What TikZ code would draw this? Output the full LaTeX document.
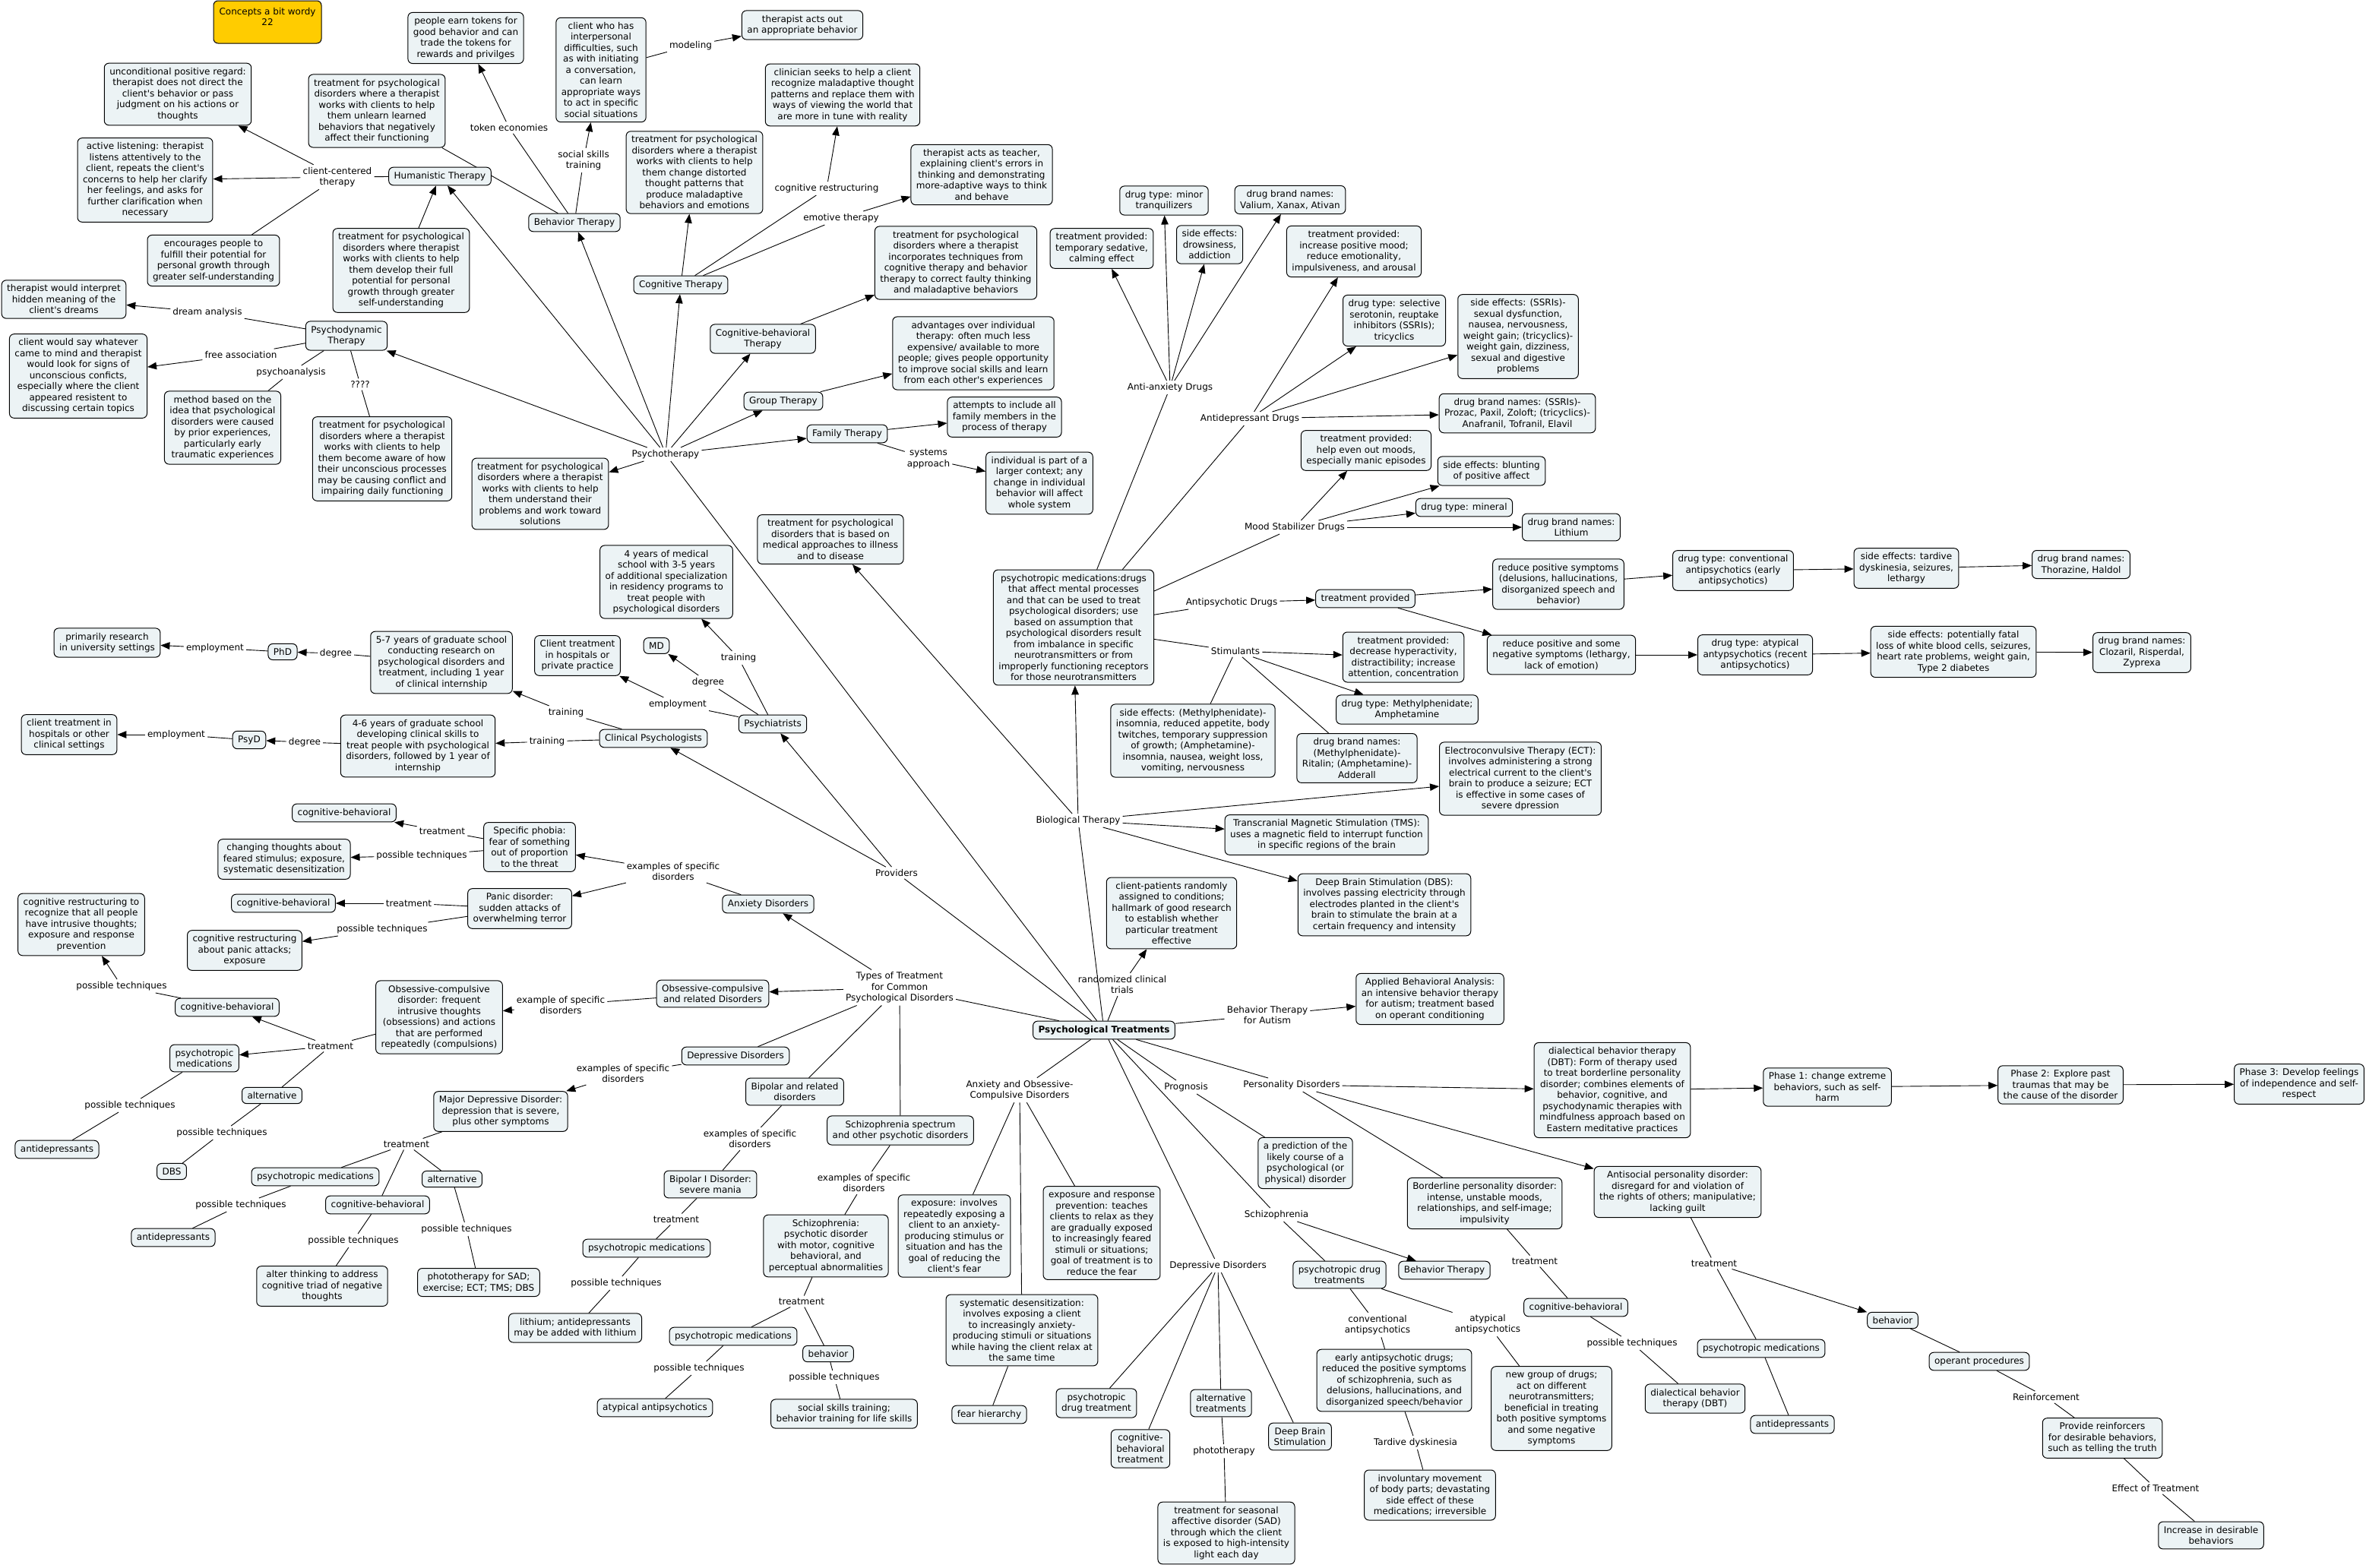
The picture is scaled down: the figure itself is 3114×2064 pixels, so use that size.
\documentclass[tikz,border=0pt]{standalone}
\usepackage{fontspec}
\setmainfont{DejaVu Sans}[Ligatures=TeXOff]
\usetikzlibrary{arrows.meta}
\pgfdeclarelayer{bg}
\pgfdeclarelayer{edges}
\pgfsetlayers{bg,edges,main}
\definecolor{boxfill}{RGB}{236,243,245}
\definecolor{gold}{RGB}{255,204,0}
\newcommand{\mfs}{\fontsize{12}{14.5}\selectfont}
\begin{document}
\begin{tikzpicture}[x=1pt,y=-1pt,
  cbox/.style={draw=black,line width=1pt,fill=boxfill,rounded corners=6pt,align=center,inner xsep=7pt,inner ysep=6pt,font=\mfs},
  lbl/.style={align=center,inner sep=3pt,font=\mfs},
  ln/.style={line width=0.9pt,draw=black},
  arr/.style={ln,-{Triangle[length=12pt,width=9.5pt]}}]
\begin{pgfonlayer}{bg}
\fill[white] (0,0) rectangle (3114,2064);
\end{pgfonlayer}
\useasboundingbox (0,0) rectangle (3114,2064);

% ---------- concepts ----------
\node[cbox,fill=gold,minimum width=142pt,minimum height=56pt] (cw) at (352,29) {};
\node[lbl] (cwt) at (352,22) {Concepts a bit wordy\\22};
\node[cbox] (upr) at (234,124) {unconditional positive regard:\\therapist does not direct the\\client's behavior or pass\\judgment on his actions or\\thoughts};
\node[cbox] (al) at (191,237) {active listening: therapist\\listens attentively to the\\client, repeats the client's\\concerns to help her clarify\\her feelings, and asks for\\further clarification when\\necessary};
\node[cbox] (hum) at (579,232) {Humanistic Therapy};
\node[cbox] (enc) at (281,343) {encourages people to\\fulfill their potential for\\personal growth through\\greater self-understanding};
\node[cbox] (humdef) at (528,356) {treatment for psychological\\disorders where therapist\\works with clients to help\\them develop their full\\potential for personal\\growth through greater\\self-understanding};
\node[cbox] (behdef) at (496,146) {treatment for psychological\\disorders where a therapist\\works with clients to help\\them unlearn learned\\behaviors that negatively\\affect their functioning};
\node[cbox] (tok) at (613,50) {people earn tokens for\\good behavior and can\\trade the tokens for\\rewards and privilges};
\node[cbox] (beh) at (756,293) {Behavior Therapy};
\node[cbox] (dream) at (84,394) {therapist would interpret\\hidden meaning of the\\client's dreams};
\node[cbox] (psyd) at (456,442) {Psychodynamic\\Therapy};
\node[cbox] (free) at (103,495) {client would say whatever\\came to mind and therapist\\would look for signs of\\unconscious conficts,\\especially where the client\\appeared resistent to\\discussing certain topics};
\node[cbox] (psa) at (293,563) {method based on the\\idea that psychological\\disorders were caused\\by prior experiences,\\particularly early\\traumatic experiences};
\node[cbox] (psydef) at (503,604) {treatment for psychological\\disorders where a therapist\\works with clients to help\\them become aware of how\\their unconscious processes\\may be causing conflict and\\impairing daily functioning};
\node[cbox] (pthdef) at (711,650) {treatment for psychological\\disorders where a therapist\\works with clients to help\\them understand their\\problems and work toward\\solutions};
\node[cbox] (ssk) at (791,92) {client who has\\interpersonal\\difficulties, such\\as with initiating\\a conversation,\\can learn\\appropriate ways\\to act in specific\\social situations};
\node[cbox] (model) at (1056,33) {therapist acts out\\an appropriate behavior};
\node[cbox] (cogdef) at (914,227) {treatment for psychological\\disorders where a therapist\\works with clients to help\\them change distorted\\thought patterns that\\produce maladaptive\\behaviors and emotions};
\node[cbox] (crdef) at (1109,125) {clinician seeks to help a client\\recognize maladaptive thought\\patterns and replace them with\\ways of viewing the world that\\are more in tune with reality};
\node[cbox] (emdef) at (1292,230) {therapist acts as teacher,\\explaining client's errors in\\thinking and demonstrating\\more-adaptive ways to think\\and behave};
\node[cbox] (cog) at (896,375) {Cognitive Therapy};
\node[cbox] (cbtdef) at (1258,346) {treatment for psychological\\disorders where a therapist\\incorporates techniques from\\cognitive therapy and behavior\\therapy to correct faulty thinking\\and maladaptive behaviors};
\node[cbox] (cbt) at (1004,446) {Cognitive-behavioral\\Therapy};
\node[cbox] (grpdef) at (1281,465) {advantages over individual\\therapy: often much less\\expensive/ available to more\\people; gives people opportunity\\to improve social skills and learn\\from each other's experiences};
\node[cbox] (grp) at (1031,528) {Group Therapy};
\node[cbox] (fam) at (1115,571) {Family Therapy};
\node[cbox] (famdef) at (1322,549) {attempts to include all\\family members in the\\process of therapy};
\node[cbox] (sysdef) at (1368,636) {individual is part of a\\larger context; any\\change in individual\\behavior will affect\\whole system};
\node[cbox] (aa1) at (1532,264) {drug type: minor\\tranquilizers};
\node[cbox] (aa2) at (1450,327) {treatment provided:\\temporary sedative,\\calming effect};
\node[cbox] (aa3) at (1592,322) {side effects:\\drowsiness,\\addiction};
\node[cbox] (aa4) at (1698,263) {drug brand names:\\Valium, Xanax, Ativan};
\node[cbox] (ad1) at (1782,331) {treatment provided:\\increase positive mood;\\reduce emotionality,\\impulsiveness, and arousal};
\node[cbox] (ad2) at (1835,422) {drug type: selective\\serotonin, reuptake\\inhibitors (SSRIs);\\tricyclics};
\node[cbox] (ad3) at (1998,443) {side effects: (SSRIs)-\\sexual dysfunction,\\nausea, nervousness,\\weight gain; (tricyclics)-\\weight gain, dizziness,\\sexual and digestive\\problems};
\node[cbox] (ad4) at (1997,544) {drug brand names: (SSRIs)-\\Prozac, Paxil, Zoloft; (tricyclics)-\\Anafranil, Tofranil, Elavil};
\node[cbox] (ms1) at (1798,593) {treatment provided:\\help even out moods,\\especially manic episodes};
\node[cbox] (ms2) at (1963,620) {side effects: blunting\\of positive affect};
\node[cbox] (ms3) at (1927,668) {drug type: mineral};
\node[cbox] (ms4) at (2068,694) {drug brand names:\\Lithium};
\node[cbox] (aptp) at (1797,788) {treatment provided};
\node[cbox] (ap1) at (2051,769) {reduce positive symptoms\\(delusions, hallucinations,\\disorganized speech and\\behavior)};
\node[cbox] (ap2) at (2055,862) {reduce positive and some\\negative symptoms (lethargy,\\lack of emotion)};
\node[cbox] (ap3) at (2281,751) {drug type: conventional\\antipsychotics (early\\antipsychotics)};
\node[cbox] (ap4) at (2310,862) {drug type: atypical\\antypsychotics (recent\\antipsychotics)};
\node[cbox] (ap5) at (2509,748) {side effects: tardive\\dyskinesia, seizures,\\lethargy};
\node[cbox] (ap6) at (2739,743) {drug brand names:\\Thorazine, Haldol};
\node[cbox] (ap7) at (2571,858) {side effects: potentially fatal\\loss of white blood cells, seizures,\\heart rate problems, weight gain,\\Type 2 diabetes};
\node[cbox] (ap8) at (2819,859) {drug brand names:\\Clozaril, Risperdal,\\Zyprexa};
\node[cbox] (st1) at (1847,865) {treatment provided:\\decrease hyperactivity,\\distractibility; increase\\attention, concentration};
\node[cbox] (st2) at (1852,934) {drug type: Methylphenidate;\\Amphetamine};
\node[cbox] (st3) at (1786,998) {drug brand names:\\(Methylphenidate)-\\Ritalin; (Amphetamine)-\\Adderall};
\node[cbox] (st4) at (1570,975) {side effects: (Methylphenidate)-\\insomnia, reduced appetite, body\\twitches, temporary suppression\\of growth; (Amphetamine)-\\insomnia, nausea, weight loss,\\vomiting, nervousness};
\node[cbox] (ect) at (2001,1025) {Electroconvulsive Therapy (ECT):\\involves administering a strong\\electrical current to the client's\\brain to produce a seizure; ECT\\is effective in some cases of\\severe dpression};
\node[cbox] (tms) at (1746,1099) {Transcranial Magnetic Stimulation (TMS):\\uses a magnetic field to interrupt function\\in specific regions of the brain};
\node[cbox] (dbs) at (1822,1191) {Deep Brain Stimulation (DBS):\\involves passing electricity through\\electrodes planted in the client's\\brain to stimulate the brain at a\\certain frequency and intensity};
\node[cbox] (rct) at (1542,1202) {client-patients randomly\\assigned to conditions;\\hallmark of good research\\to establish whether\\particular treatment\\effective};
\node[cbox] (aba) at (1882,1315) {Applied Behavioral Analysis:\\an intensive behavior therapy\\for autism; treatment based\\on operant conditioning};
\node[cbox] (biodef) at (1093,710) {treatment for psychological\\disorders that is based on\\medical approaches to illness\\and to disease};
\node[cbox] (med4) at (877,766) {4 years of medical\\school with 3-5 years\\of additional specialization\\in residency programs to\\treat people with\\psychological disorders};
\node[cbox] (ptm) at (1413,826) {psychotropic medications:drugs\\that affect mental processes\\and that can be used to treat\\psychological disorders; use\\based on assumption that\\psychological disorders result\\from imbalance in specific\\neurotransmitters or from\\improperly functioning receptors\\for those neurotransmitters};
\node[cbox] (MD) at (864,850) {MD};
\node[cbox] (clin) at (760,863) {Client treatment\\in hospitals or\\private practice};
\node[cbox] (psych) at (1017,953) {Psychiatrists};
\node[cbox] (cp) at (860,972) {Clinical Psychologists};
\node[cbox] (anx) at (1011,1190) {Anxiety Disorders};
\node[cbox] (ocd) at (938,1308) {Obsessive-compulsive\\and related Disorders};
\node[cbox,font=\mfs\bfseries] (pt) at (1453,1356) {Psychological Treatments};
\node[cbox] (phdemp) at (141,846) {primarily research\\in university settings};
\node[cbox] (phd) at (372,858) {PhD};
\node[cbox] (phdtr) at (581,872) {5-7 years of graduate school\\conducting research on\\psychological disorders and\\treatment, including 1 year\\of clinical internship};
\node[cbox] (psydtr) at (550,982) {4-6 years of graduate school\\developing clinical skills to\\treat people with psychological\\disorders, followed by 1 year of\\internship};
\node[cbox] (psyD) at (328,974) {PsyD};
\node[cbox] (psydemp) at (91,967) {client treatment in\\hospitals or other\\clinical settings};
\node[cbox] (spcb) at (453,1070) {cognitive-behavioral};
\node[cbox] (sp) at (697,1115) {Specific phobia:\\fear of something\\out of proportion\\to the threat};
\node[cbox] (sppt) at (374,1131) {changing thoughts about\\feared stimulus; exposure,\\systematic desensitization};
\node[cbox] (pdcb) at (373,1189) {cognitive-behavioral};
\node[cbox] (pd) at (684,1196) {Panic disorder:\\sudden attacks of\\overwhelming terror};
\node[cbox] (pdpt) at (322,1251) {cognitive restructuring\\about panic attacks;\\exposure};
\node[cbox] (ocdpt) at (107,1217) {cognitive restructuring to\\recognize that all people\\have intrusive thoughts;\\exposure and response\\prevention};
\node[cbox] (ocdcb) at (299,1326) {cognitive-behavioral};
\node[cbox] (ocdx) at (578,1339) {Obsessive-compulsive\\disorder: frequent\\intrusive thoughts\\(obsessions) and actions\\that are performed\\repeatedly (compulsions)};
\node[cbox] (ocdpm) at (269,1393) {psychotropic\\medications};
\node[cbox] (ocdalt) at (358,1442) {alternative};
\node[cbox] (ocdad) at (75,1513) {antidepressants};
\node[cbox] (ocddbs) at (226,1542) {DBS};
\node[cbox] (mdd) at (659,1463) {Major Depressive Disorder:\\depression that is severe,\\plus other symptoms};
\node[cbox] (mddpm) at (415,1549) {psychotropic medications};
\node[cbox] (mddalt) at (595,1552) {alternative};
\node[cbox] (mddcb) at (497,1586) {cognitive-behavioral};
\node[cbox] (mddad) at (228,1629) {antidepressants};
\node[cbox] (mddcbpt) at (424,1693) {alter thinking to address\\cognitive triad of negative\\thoughts};
\node[cbox] (mddaltpt) at (630,1688) {phototherapy for SAD;\\exercise; ECT; TMS; DBS};
\node[cbox] (dep) at (968,1390) {Depressive Disorders};
\node[cbox] (bip) at (1046,1437) {Bipolar and related\\disorders};
\node[cbox] (sch) at (1185,1488) {Schizophrenia spectrum\\and other psychotic disorders};
\node[cbox] (bip1) at (935,1559) {Bipolar I Disorder:\\severe mania};
\node[cbox] (bippm) at (851,1643) {psychotropic medications};
\node[cbox] (bippt) at (757,1748) {lithium; antidepressants\\may be added with lithium};
\node[cbox] (schz) at (1087,1640) {Schizophrenia:\\psychotic disorder\\with motor, cognitive\\behavioral, and\\perceptual abnormalities};
\node[cbox] (schzpm) at (965,1759) {psychotropic medications};
\node[cbox] (schzbeh) at (1090,1782) {behavior};
\node[cbox] (schzaa) at (862,1853) {atypical antipsychotics};
\node[cbox] (schzsk) at (1111,1861) {social skills training;\\behavior training for life skills};
\node[cbox] (exp) at (1256,1627) {exposure: involves\\repeatedly exposing a\\client to an anxiety-\\producing stimulus or\\situation and has the\\goal of reducing the\\client's fear};
\node[cbox] (erp) at (1450,1623) {exposure and response\\prevention: teaches\\clients to relax as they\\are gradually exposed\\to increasingly feared\\stimuli or situations;\\goal of treatment is to\\reduce the fear};
\node[cbox] (sysd) at (1345,1751) {systematic desensitization:\\involves exposing a client\\to increasingly anxiety-\\producing stimuli or situations\\while having the client relax at\\the same time};
\node[cbox] (fear) at (1302,1862) {fear hierarchy};
\node[cbox] (ddpm) at (1443,1847) {psychotropic\\drug treatment};
\node[cbox] (ddcb) at (1501,1907) {cognitive-\\behavioral\\treatment};
\node[cbox] (dbt) at (2122,1435) {dialectical behavior therapy\\(DBT): Form of therapy used\\to treat borderline personality\\disorder; combines elements of\\behavior, cognitive, and\\psychodynamic therapies with\\mindfulness approach based on\\Eastern meditative practices};
\node[cbox] (ph1) at (2405,1431) {Phase 1: change extreme\\behaviors, such as self-\\harm};
\node[cbox] (ph2) at (2712,1428) {Phase 2: Explore past\\traumas that may be\\the cause of the disorder};
\node[cbox] (ph3) at (3026,1427) {Phase 3: Develop feelings\\of independence and self-\\respect};
\node[cbox] (prog) at (1718,1531) {a prediction of the\\likely course of a\\psychological (or\\physical) disorder};
\node[cbox] (bpd) at (1954,1584) {Borderline personality disorder:\\intense, unstable moods,\\relationships, and self-image;\\impulsivity};
\node[cbox] (apd) at (2208,1569) {Antisocial personality disorder:\\disregard for and violation of\\the rights of others; manipulative;\\lacking guilt};
\node[cbox] (schpdt) at (1763,1678) {psychotropic drug\\treatments};
\node[cbox] (schbt) at (1901,1672) {Behavior Therapy};
\node[cbox] (bpdcb) at (2074,1721) {cognitive-behavioral};
\node[cbox] (bpddbt) at (2231,1841) {dialectical behavior\\therapy (DBT)};
\node[cbox] (apdpm) at (2318,1775) {psychotropic medications};
\node[cbox] (apdad) at (2359,1875) {antidepressants};
\node[cbox] (apdbeh) at (2491,1738) {behavior};
\node[cbox] (oper) at (2605,1792) {operant procedures};
\node[cbox] (reinf) at (2767,1893) {Provide reinforcers\\for desirable behaviors,\\such as telling the truth};
\node[cbox] (inc) at (2910,2021) {Increase in desirable\\behaviors};
\node[cbox] (conv) at (1835,1817) {early antipsychotic drugs;\\reduced the positive symptoms\\of schizophrenia, such as\\delusions, hallucinations, and\\disorganized  speech/behavior};
\node[cbox] (atyp) at (2042,1854) {new group of drugs;\\act on different\\neurotransmitters;\\beneficial in treating\\both positive symptoms\\and some negative\\symptoms};
\node[cbox] (tard) at (1882,1968) {involuntary movement\\of body parts; devastating\\side effect of these\\medications; irreversible};
\node[cbox] (ddalt) at (1607,1847) {alternative\\treatments};
\node[cbox] (dddbs) at (1711,1891) {Deep Brain\\Stimulation};
\node[cbox] (sad) at (1614,2018) {treatment for seasonal\\affective disorder (SAD)\\through which the client\\is exposed to high-intensity\\light each day};

% ---------- linking phrases ----------
\node[lbl] (lcct) at (444,233) {client-centered\\therapy};
\node[lbl] (ltok) at (670,168) {token economies};
\node[lbl] (lssk) at (768,211) {social skills\\training};
\node[lbl] (lmodel) at (909,60) {modeling};
\node[lbl] (ldream) at (273,411) {dream analysis};
\node[lbl] (lfree) at (317,467) {free association};
\node[lbl] (lpsa) at (383,490) {psychoanalysis};
\node[lbl] (lq) at (474,506) {????};
\node[lbl] (lpth) at (876,598) {Psychotherapy};
\node[lbl] (lcr) at (1088,248) {cognitive restructuring};
\node[lbl] (lem) at (1107,287) {emotive therapy};
\node[lbl] (lsys) at (1222,604) {systems\\approach};
\node[lbl] (laa) at (1540,510) {Anti-anxiety Drugs};
\node[lbl] (lad) at (1645,551) {Antidepressant Drugs};
\node[lbl] (lms) at (1704,694) {Mood Stabilizer Drugs};
\node[lbl] (lap) at (1621,793) {Antipsychotic Drugs};
\node[lbl] (lstim) at (1626,857) {Stimulants};
\node[lbl] (lbio) at (1419,1080) {Biological Therapy};
\node[lbl] (lrct) at (1477,1296) {randomized clinical\\trials};
\node[lbl] (lbta) at (1668,1336) {Behavior Therapy\\for Autism};
\node[lbl] (lpstr) at (972,866) {training};
\node[lbl] (lpsdeg) at (932,898) {degree};
\node[lbl] (lpsemp) at (892,927) {employment};
\node[lbl] (lprov) at (1180,1149) {Providers};
\node[lbl] (lexanx) at (886,1147) {examples of specific\\disorders};
\node[lbl] (ltypes) at (1184,1300) {Types of Treatment\\for Common\\Psychological Disorders};
\node[lbl] (lphdemp) at (283,853) {employment};
\node[lbl] (lphddeg) at (442,860) {degree};
\node[lbl] (lcptr1) at (745,938) {training};
\node[lbl] (lcptr2) at (720,976) {training};
\node[lbl] (lpsyddeg) at (401,977) {degree};
\node[lbl] (lpsydemp) at (232,967) {employment};
\node[lbl] (lsptr) at (582,1094) {treatment};
\node[lbl] (lsppt) at (555,1126) {possible techniques};
\node[lbl] (lpdtr) at (538,1189) {treatment};
\node[lbl] (lpdpt) at (503,1223) {possible techniques};
\node[lbl] (locdpt1) at (160,1298) {possible techniques};
\node[lbl] (locdex) at (738,1323) {example of specific\\disorders};
\node[lbl] (locdtr) at (435,1377) {treatment};
\node[lbl] (locdpt2) at (171,1455) {possible techniques};
\node[lbl] (locdpt3) at (292,1491) {possible techniques};
\node[lbl] (lmddex) at (820,1413) {examples of specific\\disorders};
\node[lbl] (lmddtr) at (535,1506) {treatment};
\node[lbl] (lmddpt1) at (317,1586) {possible techniques};
\node[lbl] (lmddpt2) at (465,1633) {possible techniques};
\node[lbl] (lmddpt3) at (614,1618) {possible techniques};
\node[lbl] (lbipex) at (987,1499) {examples of specific\\disorders};
\node[lbl] (lbiptr) at (890,1605) {treatment};
\node[lbl] (lbippt) at (811,1689) {possible techniques};
\node[lbl] (lschex) at (1137,1557) {examples of specific\\disorders};
\node[lbl] (lschztr) at (1055,1713) {treatment};
\node[lbl] (lschzpt1) at (920,1801) {possible techniques};
\node[lbl] (lschzpt2) at (1098,1813) {possible techniques};
\node[lbl] (laocd) at (1342,1435) {Anxiety and Obsessive-\\Compulsive Disorders};
\node[lbl] (ldd) at (1603,1666) {Depressive Disorders};
\node[lbl] (lprog) at (1561,1431) {Prognosis};
\node[lbl] (lpers) at (1700,1428) {Personality Disorders};
\node[lbl] (lschzL) at (1680,1599) {Schizophrenia};
\node[lbl] (lbpdtr) at (2020,1660) {treatment};
\node[lbl] (lbpdpt) at (2148,1768) {possible techniques};
\node[lbl] (lapdtr) at (2256,1663) {treatment};
\node[lbl] (lreinf) at (2693,1839) {Reinforcement};
\node[lbl] (leff) at (2837,1959) {Effect of Treatment};
\node[lbl] (lconv) at (1813,1744) {conventional\\antipsychotics};
\node[lbl] (latyp) at (1958,1743) {atypical\\antipsychotics};
\node[lbl] (ltard) at (1863,1899) {Tardive dyskinesia};
\node[lbl] (lphoto) at (1611,1910) {phototherapy};

% ---------- connectors ----------
\begin{pgfonlayer}{edges}
% humanistic
\draw[ln] (hum) -- (lcct);
\draw[arr] (lcct) -- (upr);
\draw[arr] (lcct) -- (al);
\draw[ln] (lcct) -- (enc);
\draw[arr] (humdef) -- (hum);
\draw[arr] (lpth) -- (hum);
% behavior
\draw[ln] (behdef) -- (beh);
\draw[ln] (beh) -- (ltok);
\draw[arr] (ltok) -- (tok);
\draw[ln] (beh) -- (lssk);
\draw[arr] (lssk) -- (ssk);
\draw[ln] (ssk) -- (lmodel);
\draw[arr] (lmodel) -- (model);
\draw[arr] (lpth) -- (beh);
% psychodynamic
\draw[ln] (psyd) -- (ldream);
\draw[arr] (ldream) -- (dream);
\draw[ln] (psyd) -- (lfree);
\draw[arr] (lfree) -- (free);
\draw[ln] (psyd) -- (lpsa);
\draw[ln] (lpsa) -- (psa);
\draw[ln] (psyd) -- (lq);
\draw[ln] (lq) -- (psydef);
\draw[arr] (lpth) -- (psyd);
\draw[arr] (lpth) -- (pthdef);
% cognitive
\draw[arr] (lpth) -- (cog);
\draw[arr] (cog) -- (cogdef);
\draw[ln] (cog) -- (lcr);
\draw[arr] (lcr) -- (crdef);
\draw[ln] (cog) -- (lem);
\draw[arr] (lem) -- (emdef);
\draw[arr] (lpth) -- (cbt);
\draw[arr] (cbt) -- (cbtdef);
\draw[arr] (lpth) -- (grp);
\draw[arr] (grp) -- (grpdef);
\draw[arr] (lpth) -- (fam);
\draw[arr] (fam) -- (famdef);
\draw[ln] (fam) -- (lsys);
\draw[arr] (lsys) -- (sysdef);
\draw[ln] (lpth) -- (pt);
% biological
\draw[ln] (pt) -- (lbio);
\draw[arr] (lbio) -- (biodef);
\draw[arr] (lbio) -- (ptm);
\draw[arr] (lbio) -- (ect);
\draw[arr] (lbio) -- (tms);
\draw[arr] (lbio) -- (dbs);
\draw[ln] (ptm) -- (laa);
\draw[arr] (laa) -- (aa1);
\draw[arr] (laa) -- (aa2);
\draw[arr] (laa) -- (aa3);
\draw[arr] (laa) -- (aa4);
\draw[ln] (ptm) -- (lad);
\draw[arr] (lad) -- (ad1);
\draw[arr] (lad) -- (ad2);
\draw[arr] (lad) -- (ad3);
\draw[arr] (lad) -- (ad4);
\draw[ln] (ptm) -- (lms);
\draw[arr] (lms) -- (ms1);
\draw[arr] (lms) -- (ms2);
\draw[arr] (lms) -- (ms3);
\draw[arr] (lms) -- (ms4);
\draw[ln] (ptm) -- (lap);
\draw[arr] (lap) -- (aptp);
\draw[arr] (aptp) -- (ap1);
\draw[arr] (aptp) -- (ap2);
\draw[arr] (ap1) -- (ap3);
\draw[arr] (ap3) -- (ap5);
\draw[arr] (ap5) -- (ap6);
\draw[arr] (ap2) -- (ap4);
\draw[arr] (ap4) -- (ap7);
\draw[arr] (ap7) -- (ap8);
\draw[ln] (ptm) -- (lstim);
\draw[arr] (lstim) -- (st1);
\draw[arr] (lstim) -- (st2);
\draw[ln] (lstim) -- (st3);
\draw[ln] (lstim) -- (st4);
\draw[ln] (pt) -- (lrct);
\draw[arr] (lrct) -- (rct);
\draw[ln] (pt) -- (lbta);
\draw[arr] (lbta) -- (aba);
% providers
\draw[ln] (pt) -- (lprov);
\draw[arr] (lprov) -- (cp);
\draw[arr] (lprov) -- (psych);
\draw[ln] (psych) -- (lpstr);
\draw[arr] (lpstr) -- (med4);
\draw[ln] (psych) -- (lpsdeg);
\draw[arr] (lpsdeg) -- (MD);
\draw[ln] (psych) -- (lpsemp);
\draw[arr] (lpsemp) -- (clin);
\draw[ln] (cp) -- (lcptr1);
\draw[arr] (lcptr1) -- (phdtr);
\draw[ln] (cp) -- (lcptr2);
\draw[arr] (lcptr2) -- (psydtr);
\draw[ln] (phdtr) -- (lphddeg);
\draw[arr] (lphddeg) -- (phd);
\draw[ln] (phd) -- (lphdemp);
\draw[arr] (lphdemp) -- (phdemp);
\draw[ln] (psydtr) -- (lpsyddeg);
\draw[arr] (lpsyddeg) -- (psyD);
\draw[ln] (psyD) -- (lpsydemp);
\draw[arr] (lpsydemp) -- (psydemp);
% types of treatment
\draw[ln] (pt) -- (ltypes);
\draw[arr] (ltypes) -- (anx);
\draw[arr] (ltypes) -- (ocd);
\draw[ln] (ltypes) -- (dep);
\draw[ln] (ltypes) -- (bip);
\draw[ln] (ltypes) -- (sch);
\draw[ln] (anx) -- (lexanx);
\draw[arr] (lexanx) -- (sp);
\draw[arr] (lexanx) -- (pd);
\draw[ln] (sp) -- (lsptr);
\draw[arr] (lsptr) -- (spcb);
\draw[ln] (sp) -- (lsppt);
\draw[arr] (lsppt) -- (sppt);
\draw[ln] (pd) -- (lpdtr);
\draw[arr] (lpdtr) -- (pdcb);
\draw[ln] (pd) -- (lpdpt);
\draw[arr] (lpdpt) -- (pdpt);
\draw[ln] (ocd) -- (locdex);
\draw[arr] (locdex) -- (ocdx);
\draw[ln] (ocdx) -- (locdtr);
\draw[arr] (locdtr) -- (ocdcb);
\draw[arr] (locdtr) -- (ocdpm);
\draw[ln] (locdtr) -- (ocdalt);
\draw[ln] (ocdcb) -- (locdpt1);
\draw[arr] (locdpt1) -- (ocdpt);
\draw[ln] (ocdpm) -- (locdpt2);
\draw[ln] (locdpt2) -- (ocdad);
\draw[ln] (ocdalt) -- (locdpt3);
\draw[ln] (locdpt3) -- (ocddbs);
\draw[ln] (dep) -- (lmddex);
\draw[arr] (lmddex) -- (mdd);
\draw[ln] (mdd) -- (lmddtr);
\draw[ln] (lmddtr) -- (mddpm);
\draw[ln] (lmddtr) -- (mddcb);
\draw[ln] (lmddtr) -- (mddalt);
\draw[ln] (mddpm) -- (lmddpt1);
\draw[ln] (lmddpt1) -- (mddad);
\draw[ln] (mddcb) -- (lmddpt2);
\draw[ln] (lmddpt2) -- (mddcbpt);
\draw[ln] (mddalt) -- (lmddpt3);
\draw[ln] (lmddpt3) -- (mddaltpt);
\draw[ln] (bip) -- (lbipex);
\draw[ln] (lbipex) -- (bip1);
\draw[ln] (bip1) -- (lbiptr);
\draw[ln] (lbiptr) -- (bippm);
\draw[ln] (bippm) -- (lbippt);
\draw[ln] (lbippt) -- (bippt);
\draw[ln] (sch) -- (lschex);
\draw[ln] (lschex) -- (schz);
\draw[ln] (schz) -- (lschztr);
\draw[ln] (lschztr) -- (schzpm);
\draw[ln] (lschztr) -- (schzbeh);
\draw[ln] (schzpm) -- (lschzpt1);
\draw[ln] (lschzpt1) -- (schzaa);
\draw[ln] (schzbeh) -- (lschzpt2);
\draw[ln] (lschzpt2) -- (schzsk);
% anxiety and OCD
\draw[ln] (pt) -- (laocd);
\draw[ln] (laocd) -- (exp);
\draw[ln] (laocd) -- (sysd);
\draw[ln] (laocd) -- (erp);
\draw[ln] (sysd) -- (fear);
% depressive
\draw[ln] (pt) -- (ldd);
\draw[ln] (ldd) -- (ddpm);
\draw[ln] (ldd) -- (ddcb);
\draw[ln] (ldd) -- (ddalt);
\draw[ln] (ldd) -- (dddbs);
\draw[ln] (ddalt) -- (lphoto);
\draw[ln] (lphoto) -- (sad);
% prognosis
\draw[ln] (pt) -- (lprog);
\draw[ln] (lprog) -- (prog);
% schizophrenia
\draw[ln] (pt) -- (lschzL);
\draw[ln] (lschzL) -- (schpdt);
\draw[arr] (lschzL) -- (schbt);
\draw[ln] (schpdt) -- (lconv);
\draw[ln] (lconv) -- (conv);
\draw[ln] (schpdt) -- (latyp);
\draw[ln] (latyp) -- (atyp);
\draw[ln] (conv) -- (ltard);
\draw[ln] (ltard) -- (tard);
% personality
\draw[ln] (pt) -- (lpers);
\draw[arr] (lpers) -- (dbt);
\draw[ln] (lpers) -- (bpd);
\draw[arr] (lpers) -- (apd);
\draw[arr] (dbt) -- (ph1);
\draw[arr] (ph1) -- (ph2);
\draw[arr] (ph2) -- (ph3);
\draw[ln] (bpd) -- (lbpdtr);
\draw[ln] (lbpdtr) -- (bpdcb);
\draw[ln] (bpdcb) -- (lbpdpt);
\draw[ln] (lbpdpt) -- (bpddbt);
\draw[ln] (apd) -- (lapdtr);
\draw[ln] (lapdtr) -- (apdpm);
\draw[arr] (lapdtr) -- (apdbeh);
\draw[ln] (apdpm) -- (apdad);
\draw[ln] (apdbeh) -- (oper);
\draw[ln] (oper) -- (lreinf);
\draw[ln] (lreinf) -- (reinf);
\draw[ln] (reinf) -- (leff);
\draw[ln] (leff) -- (inc);
\end{pgfonlayer}
\end{tikzpicture}
\end{document}
